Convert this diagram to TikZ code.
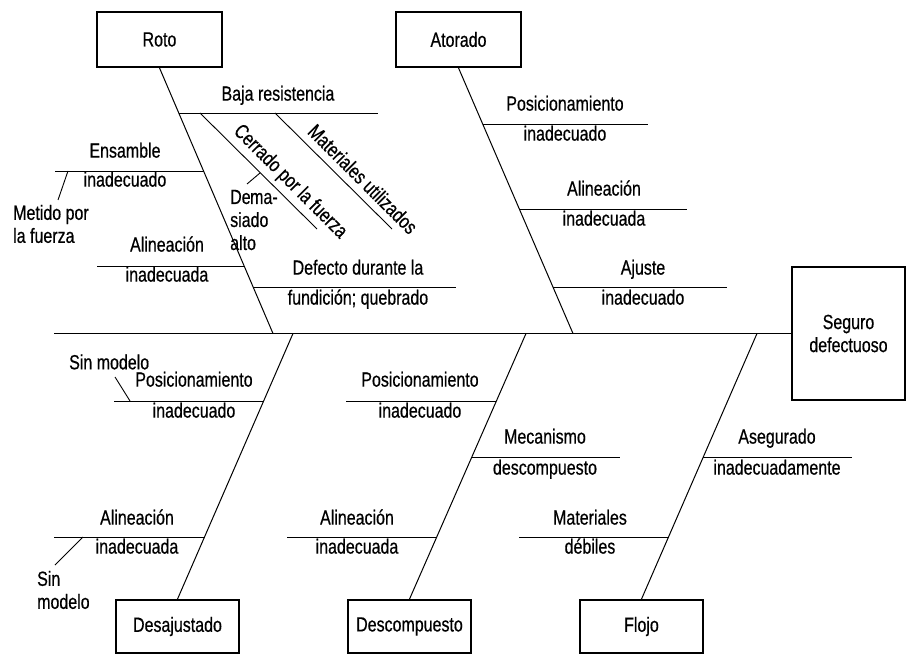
\documentclass[tikz,border=0pt]{standalone}
\usepackage{fontspec}
\setmainfont[FakeStretch=0.78,FakeBold=0.5]{Liberation Sans}
\begin{document}
\begin{tikzpicture}[x=1pt,y=-1pt,
  every node/.style={font=\fontsize{20.5}{23}\selectfont, inner sep=0pt},
  boxnode/.style={draw, line width=1.8pt, minimum width=123pt, minimum height=53pt},
  lbl/.style={text height=0.72em, text depth=0.2em},
  multi/.style={align=left, anchor=west},
  bone/.style={line width=1pt},
  twig/.style={line width=0.9pt}]
\useasboundingbox (0,0) rectangle (906,655);
% effect and category boxes
\node[boxnode, minimum width=113pt, minimum height=133pt, align=center] (seg) at (848.5,333.5) {Seguro\\defectuoso};
\node[boxnode, minimum width=125pt, minimum height=55pt] (roto) at (159.5,39.5) {Roto};
\node[boxnode, minimum width=125pt, minimum height=55pt] (ator) at (458.5,39.5) {Atorado};
\node[boxnode] (desa) at (177.5,626.5) {Desajustado};
\node[boxnode] (desc) at (409.5,626.5) {Descompuesto};
\node[boxnode] (floj) at (641.5,626.5) {Flojo};
% spine
\coordinate (sp0) at (54,333.5);
\draw[line width=1.3pt] (sp0) -- (seg.west);
% main bones
\coordinate (rb) at (273,333.5);
\coordinate (ab) at (573,333.5);
\coordinate (db) at (293,333.5);
\coordinate (cb) at (526,333.5);
\coordinate (fb) at (757,333.5);
\draw[bone] (roto.south) -- (rb);
\draw[bone] (ator.south) -- (ab);
\draw[bone] (desa.north) -- (db);
\draw[bone] (desc.north) -- (cb);
\draw[bone] (floj.north) -- (fb);

% ---- Roto branches
\coordinate (r1a) at (179,113); \coordinate (r1b) at (378,113);
\draw[twig] (r1a) -- (r1b);
\node[lbl] (t-baja) at (278,98) {Baja resistencia};
\coordinate (r2a) at (200,113); \coordinate (r2b) at (317,229);
\draw[twig] (r2a) -- (r2b);
\node[rotate=-45] (t-cerr) at (290,182) {Cerrado por la fuerza};
\coordinate (r3a) at (275,113); \coordinate (r3b) at (392,229);
\draw[twig] (r3a) -- (r3b);
\node[rotate=-45] (t-mat) at (363,179) {Materiales utilizados};
\coordinate (r4a) at (260,173); \coordinate (r4b) at (247,184);
\draw[twig] (r4a) -- (r4b);
\node[multi] (t-dema) at (230,220) {De\kern-0.5pt ma-\\siado\\alto};
\coordinate (r5a) at (55,171); \coordinate (r5b) at (204,171);
\draw[twig] (r5a) -- (r5b);
\node[lbl] (t-ens1) at (125,155) {Ensamble};
\node[lbl] (t-ens2) at (125,184) {inadecuado};
\coordinate (r6a) at (68,171); \coordinate (r6b) at (58,200);
\draw[twig] (r6a) -- (r6b);
\node[multi] (t-met) at (13,224) {Metido por\\la fuerza};
\coordinate (r7a) at (97,266); \coordinate (r7b) at (244,266);
\draw[twig] (r7a) -- (r7b);
\node[lbl] (t-ali1) at (167,249) {Alineación};
\node[lbl] (t-ali2) at (167,279) {inadecuada};
\coordinate (r8a) at (253,287); \coordinate (r8b) at (456,287);
\draw[twig] (r8a) -- (r8b);
\node[lbl] (t-def1) at (358,272) {Defecto durante la};
\node[lbl] (t-def2) at (358,302) {fundición; quebrado};

% ---- Atorado branches
\coordinate (a1a) at (483,124); \coordinate (a1b) at (648,124);
\draw[twig] (a1a) -- (a1b);
\node[lbl] (t-apos1) at (565,108) {Posicionamiento};
\node[lbl] (t-apos2) at (565,138) {inadecuado};
\coordinate (a2a) at (520,209); \coordinate (a2b) at (687,209);
\draw[twig] (a2a) -- (a2b);
\node[lbl] (t-aali1) at (604,193) {Alineación};
\node[lbl] (t-aali2) at (604,223) {inadecuada};
\coordinate (a3a) at (553,287); \coordinate (a3b) at (727,287);
\draw[twig] (a3a) -- (a3b);
\node[lbl] (t-aaj1) at (643,272) {Ajuste};
\node[lbl] (t-aaj2) at (643,302) {inadecuado};

% ---- Desajustado branches
\coordinate (d1a) at (114,401); \coordinate (d1b) at (264,401);
\draw[twig] (d1a) -- (d1b);
\node[lbl] (t-dpos1) at (194,384) {Posicionamiento};
\node[lbl] (t-dpos2) at (194,415) {inadecuado};
\coordinate (d2a) at (115,377); \coordinate (d2b) at (130,401);
\draw[twig] (d2a) -- (d2b);
\node[multi] (t-sin1) at (69,362) {Sin modelo};
\coordinate (d3a) at (54,537); \coordinate (d3b) at (205,537);
\draw[twig] (d3a) -- (d3b);
\node[lbl] (t-dali1) at (137,522) {Alineación};
\node[lbl] (t-dali2) at (137,551) {inadecuada};
\coordinate (d4a) at (83,537); \coordinate (d4b) at (55,565);
\draw[twig] (d4a) -- (d4b);
\node[multi] (t-sin2) at (37,590) {Sin\\modelo};

% ---- Descompuesto branches
\coordinate (c1a) at (346,401); \coordinate (c1b) at (496,401);
\draw[twig] (c1a) -- (c1b);
\node[lbl] (t-cpos1) at (420,384) {Posicionamiento};
\node[lbl] (t-cpos2) at (420,415) {inadecuado};
\coordinate (c2a) at (472,457); \coordinate (c2b) at (620,457);
\draw[twig] (c2a) -- (c2b);
\node[lbl] (t-mec1) at (545,441) {Mecanismo};
\node[lbl] (t-mec2) at (545,472) {descompuesto};
\coordinate (c3a) at (287,537); \coordinate (c3b) at (437,537);
\draw[twig] (c3a) -- (c3b);
\node[lbl] (t-cali1) at (357,522) {Alineación};
\node[lbl] (t-cali2) at (357,551) {inadecuada};

% ---- Flojo branches
\coordinate (f1a) at (703,457); \coordinate (f1b) at (852,457);
\draw[twig] (f1a) -- (f1b);
\node[lbl] (t-ase1) at (777,441) {Asegurado};
\node[lbl] (t-ase2) at (777,472) {inadecuadamente};
\coordinate (f2a) at (519,537); \coordinate (f2b) at (669,537);
\draw[twig] (f2a) -- (f2b);
\node[lbl] (t-mat1) at (590,522) {Materiales};
\node[lbl] (t-mat2) at (590,551) {débiles};
\end{tikzpicture}
\end{document}
